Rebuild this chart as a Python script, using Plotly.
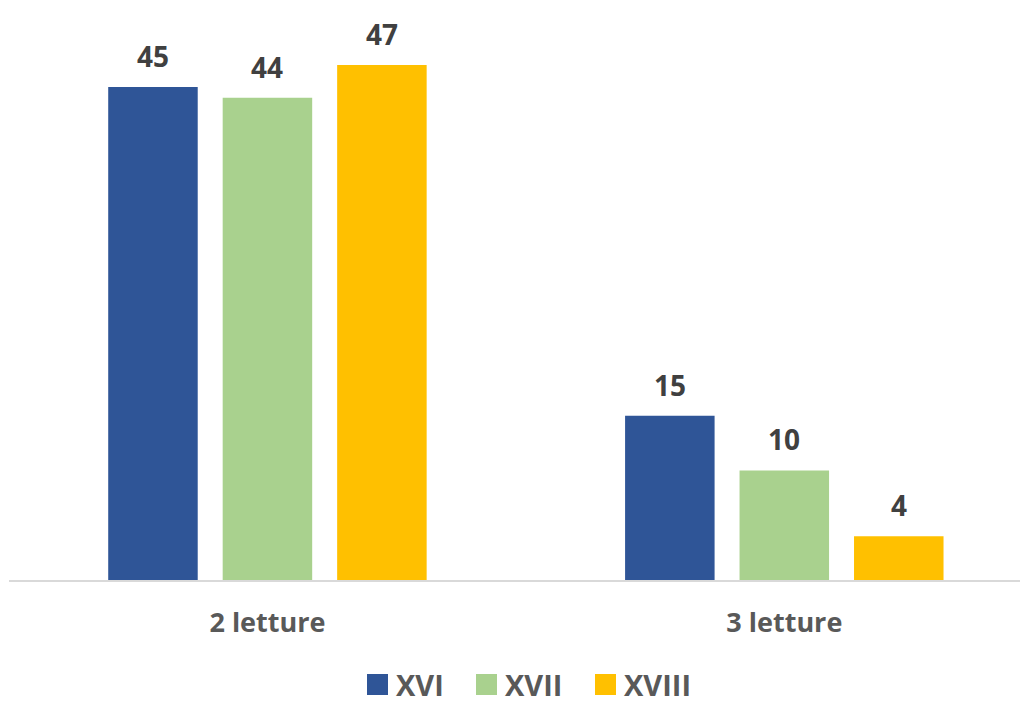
import plotly.graph_objects as go

categories = ["2 letture", "3 letture"]
series_names = ["XVI", "XVII", "XVIII"]
xvi = [45, 15]
xvii = [44, 10]
xviii = [47, 4]
colors = ["#2F5597", "#A9D18E", "#FFC000"]

values = [xvi, xvii, xviii]

L, R, T, B = 9, 8, 54, 124
FW, FH = 1028, 704
PW, PH = FW - L - R, FH - T - B
SLOT_PX = 114.5  # spacing between bars within a group

fig = go.Figure()
for i, (name, vals, col) in enumerate(zip(series_names, values, colors)):
    fig.add_trace(go.Bar(
        x=categories, y=vals, name=name, marker=dict(color=col, line=dict(width=0)),
        showlegend=False, cliponaxis=False,
    ))
    for cat, v in zip(categories, vals):
        fig.add_annotation(x=cat, y=v, xref="x", yref="y", text=str(v), showarrow=False,
                           xanchor="center", yanchor="bottom",
                           xshift=(i - 1) * SLOT_PX, yshift=10,
                           font=dict(family="Open Sans", size=28, color="#404040", weight="bold"))

# custom legend at bottom (squares + labels)
sq_left_px = [367, 476, 595]
sq_top_px, sq_size = 674, 21
for i, (name, col) in enumerate(zip(series_names, colors)):
    x0 = (sq_left_px[i] - L) / PW
    x1 = (sq_left_px[i] + sq_size - L) / PW
    y0 = (FH - B - sq_top_px) / PH
    y1 = (FH - B - sq_top_px - sq_size) / PH
    fig.add_shape(type="rect", xref="paper", yref="paper", x0=x0, x1=x1, y0=y0, y1=y1,
                  fillcolor=col, line=dict(width=0))
    fig.add_annotation(x=x1 + 7 / PW, y=(y0 + y1) / 2, xref="paper", yref="paper",
                       text=name, showarrow=False, xanchor="left", yanchor="middle",
                       borderpad=0,
                       font=dict(family="Open Sans", size=29, color="#595959", weight="bold"))

fig.update_layout(
    width=FW, height=FH,
    margin=dict(l=L, r=R, t=T, b=B),
    paper_bgcolor="white", plot_bgcolor="white",
    barmode="group", bargap=0.3356, bargroupgap=0.218,
    xaxis=dict(showline=True, linecolor="#D9D9D9", linewidth=2, ticks="",
               range=[-0.5, 1.456], ticklabelstandoff=18,
               tickfont=dict(family="Open Sans", size=27, color="#595959", weight="bold")),
    yaxis=dict(range=[0, 48], visible=False, showgrid=False, zeroline=False),
)
fig.write_html("out.html", config={"displayModeBar": False},
               post_script="document.body.style.margin='0';")
